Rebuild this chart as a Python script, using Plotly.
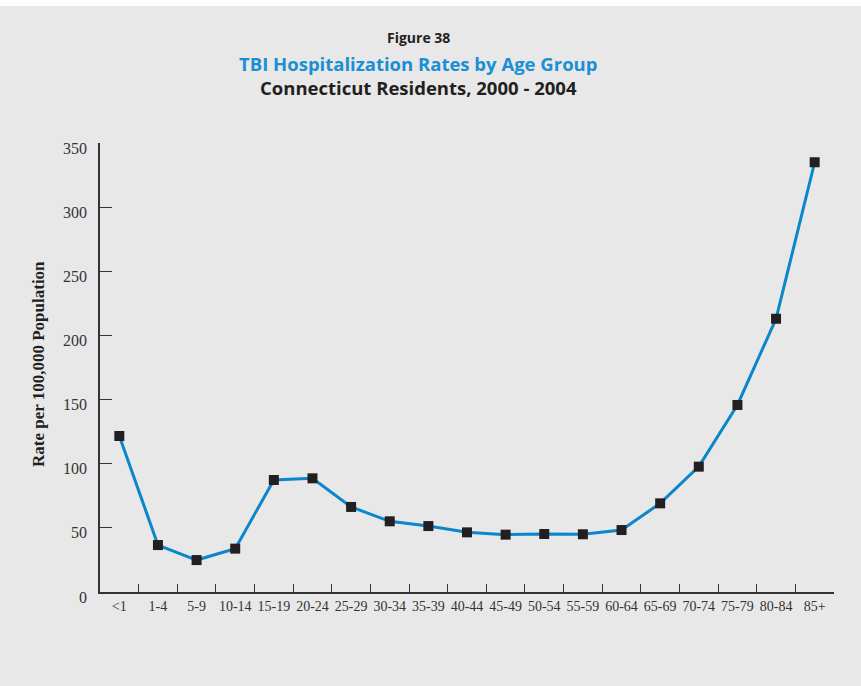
import plotly.graph_objects as go

age_groups = ["<1", "1-4", "5-9", "10-14", "15-19", "20-24", "25-29", "30-34", "35-39",
              "40-44", "45-49", "50-54", "55-59", "60-64", "65-69", "70-74", "75-79",
              "80-84", "85+"]
rates = [121.6, 36.6, 24.9, 33.8, 87.3, 88.6, 66.3, 55.1, 51.4,
         46.5, 44.7, 45.2, 45.0, 48.3, 69.1, 97.7, 145.8, 213.0, 335.0]
y_ticks = [0, 50, 100, 150, 200, 250, 300, 350]

BG = "#e8e8e8"
TXT = "#231f20"
serif = "Liberation Serif, Times New Roman, serif"
sans = "Open Sans, DejaVu Sans, sans-serif"

# plot area in pixels: x 100..834, y 143..592
def px_x(p):
    return (p - 100) / 734

def px_y(p):
    return (592 - p) / 449

fig = go.Figure()
fig.add_trace(
    go.Scatter(
        x=age_groups,
        y=rates,
        mode="lines+markers",
        line=dict(color="#0a86cb", width=3),
        marker=dict(symbol="square", size=10, color=TXT),
        hoverinfo="x+y",
    )
)

# title block
titles = [
    ("Figure 38", 38, 14, TXT),
    ("TBI Hospitalization Rates by Age Group", 63, 18.5, "#1a8fd3"),
    ("Connecticut Residents, 2000 - 2004", 88, 18.5, TXT),
]
for text, y, size, color in titles:
    fig.add_annotation(
        text=f"<b>{text}</b>", x=px_x(418), xref="paper",
        y=px_y(y), yref="paper", showarrow=False,
        font=dict(family=sans, size=size, color=color),
        xanchor="center", yanchor="middle",
    )

fig.add_annotation(
    text="<b>Rate per 100,000 Population</b>",
    x=px_x(38), xref="paper", y=px_y(364), yref="paper",
    xanchor="center", yanchor="middle",
    textangle=-90, showarrow=False,
    font=dict(family=serif, size=17, color=TXT),
)

# white strip along the top edge
fig.add_shape(
    type="rect", xref="paper", yref="paper",
    x0=-1, x1=2, y0=px_y(6), y1=px_y(-10),
    fillcolor="white", line_width=0, layer="below",
)

fig.update_layout(
    width=861,
    height=686,
    margin=dict(l=100, r=27, t=143, b=94),
    paper_bgcolor=BG,
    plot_bgcolor=BG,
    showlegend=False,
    xaxis=dict(
        type="category",
        tickson="boundaries",
        ticks="inside",
        ticklen=8,
        tickwidth=1.3,
        tickcolor="#333",
        tickangle=0,
        showline=True,
        linecolor="#333",
        linewidth=1.5,
        showgrid=False,
        zeroline=False,
        tickfont=dict(family=serif, size=14, color="#333"),
        range=[-0.5, 18.5],
    ),
    yaxis=dict(
        range=[0, 350],
        tickvals=y_ticks,
        ticks="inside",
        ticklen=12,
        tickwidth=1.3,
        tickcolor="#333",
        showline=True,
        linecolor="#333",
        linewidth=1.5,
        showgrid=False,
        zeroline=False,
        ticklabelstandoff=8,
        ticklabelshift=5,
        tickfont=dict(family=serif, size=16, color="#333"),
    ),
)

fig.write_html(
    "out.html",
    config={"displayModeBar": False},
    post_script="document.body.style.margin='0';",
)
